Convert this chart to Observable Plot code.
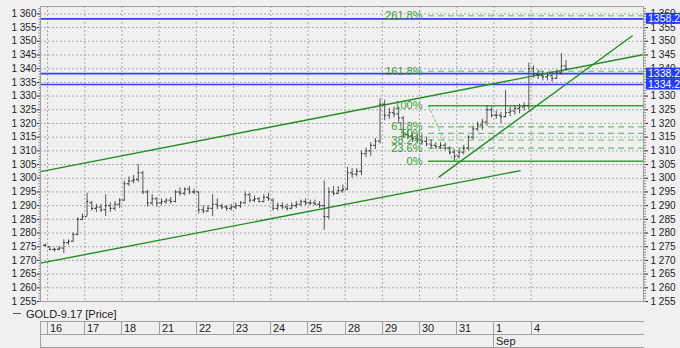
<!DOCTYPE html>
<html><head><meta charset="utf-8">
<script src="https://cdn.jsdelivr.net/npm/d3@7"></script>
<script src="https://cdn.jsdelivr.net/npm/@observablehq/plot@0.6"></script>
<style>
html,body{margin:0;padding:0;background:#f0f0f0;}
#chart svg{display:block;background:#f0f0f0;overflow:hidden;}
</style></head><body><div id="chart"></div>
<script>
// ---- data ----
const dayLabels = ["16","17","18","21","22","23","24","25","28","29","30","31","1","4"];
const monthLabel = "Sep";
const monthStartDay = 12;          // index of "1" in dayLabels
const barsPerDay = 8;
const seriesName = "GOLD-9.17 [Price]";

const open = [1275.5,
1275,1274,1274,1274.5,1276.5,1277,1279.5,1285,
1286,1291,1289,1289.5,1288.5,1290,1289,1290.5,
1292,1298,1299,1299.5,1302,1295,1291,1292.5,
1291,1291.5,1292,1291.5,1295,1294.5,1296,1295,
1295,1288.5,1288,1289,1290.5,1290,1289.5,1289,
1289.5,1290,1291,1294,1292,1292.5,1291.5,1293,
1292,1289,1290,1289.5,1289,1290,1290.5,1291.5,
1291,1291,1290.5,1290,1286,1295,1294.5,1295.5,
1296,1302,1301.5,1302.5,1309,1310,1312,1313.5,
1327,1323,1324,1323.5,1322,1316,1315.5,1314.5,
1314,1313.5,1312.5,1312,1311.5,1312,1311,1309.5,
1308,1309.5,1311,1315,1318,1319.5,1320.5,1325,
1323,1323,1322.5,1324,1324.5,1325.5,1326,1326.5,
1340,1338,1337.5,1337,1337.5,1336.5,1338.5,1341];
const high = [1276,
1275,1274.5,1275,1277.5,1277.5,1280,1285.5,1287,
1294.5,1291.5,1290.5,1290.5,1294,1291,1291.5,1292.5,
1299,1300.5,1301,1305,1302.5,1295.5,1294,1293,
1292.5,1292.5,1293,1295.5,1296.5,1296.5,1297,1296,
1295,1290,1290,1294,1292.5,1290.5,1290,1290.5,
1291,1291.5,1295,1294.5,1293.5,1293,1294,1294.5,
1292.5,1291,1291,1290.5,1291,1291.5,1292,1292.5,
1292,1292,1291.5,1299,1296.5,1297,1297,1297.5,
1304,1303.5,1303.5,1310,1311,1313,1314.5,1329,
1328.5,1325.5,1326,1326,1322.5,1317.5,1316.5,1316,
1315.5,1315,1314,1313,1313,1312.5,1311.5,1310.5,
1310.5,1312,1315.5,1319,1320.5,1321.5,1326.5,1326,
1324.5,1324,1332,1326,1326.5,1327,1327.5,1342,
1341,1339.5,1339,1338.5,1338.5,1339.5,1345.5,1343];
const low = [1275,
1273.5,1273,1273.5,1272.5,1275.5,1276.5,1279,1284.5,
1286,1288,1287.5,1287.5,1286,1287.5,1288,1289,
1291.5,1297,1298,1298.5,1294,1289.5,1290,1289.5,
1290,1290.5,1290.5,1291,1293.5,1293.5,1294,1294,
1287,1287,1287.5,1286,1288.5,1288.5,1288,1288,
1288.5,1289,1290.5,1291,1291,1291,1291,1291.5,
1288,1288,1288.5,1288,1288.5,1289,1289.5,1290,
1290,1290,1289,1281,1285,1293.5,1294,1294.5,
1295.5,1300,1300.5,1301,1307.5,1308,1310.5,1312.5,
1321,1321.5,1322,1320,1314.5,1314,1313,1312.5,
1312,1311.5,1310.5,1310.5,1310.5,1310,1308.5,1306.2,
1307,1308.5,1310,1314,1317,1317.5,1319,1322,
1321.5,1320,1322,1322.5,1323,1323.5,1324.5,1325,
1336.5,1336,1335.5,1335.5,1335,1336,1337.5,1339];
const close = [1275.5,
1274,1274,1274.5,1276.5,1277,1279.5,1285,1286,
1291.5,1289,1289.5,1288.5,1290,1289,1290.5,1292,
1298,1299,1299.5,1302,1295,1291,1292.5,1291,
1291.5,1292,1291.5,1295,1294.5,1296,1295,1295,
1288.5,1288,1289,1290.5,1290,1289.5,1289,1289.5,
1290,1291,1294,1292,1292.5,1291.5,1293,1292.5,
1289,1290,1289.5,1289,1290,1290.5,1291.5,1291,
1291,1290.5,1290,1286,1295,1294.5,1295.5,1296,
1302,1301.5,1302.5,1309,1310,1312,1313.5,1327,
1323,1324,1323.5,1322,1316,1315.5,1314.5,1314,
1313.5,1312.5,1312,1311.5,1312,1311,1309.5,1308,
1309.5,1311,1315,1318,1319.5,1320.5,1325,1323,
1323,1322.5,1324,1324.5,1325.5,1326,1326.5,1340,
1338,1337.5,1337,1337.5,1336.5,1338.5,1341,1340];

const priceLines = [1358.2, 1338.2, 1334.2];
const priceLabels = ["1358.2", "1338.2", "1334.2"];

const fibLow = 1306.2, fibHigh = 1326.5;
const fibRatios = [0, 0.236, 0.382, 0.5, 0.618, 1, 1.618, 2.618];
const fibLabels = ["0%", "23.6%", "38.2%", "50%", "61.8%", "100%", "161.8%", "261.8%"];
const fibStartT = 10.24;
const fibDiagT = [10.24, 10.91];

// trend lines: [t1, value1, t2, value2]
const channelT1 = [-0.19, -0.19, 10.51];
const channelV1 = [1302.4, 1269.0, 1300.3];
const channelT2 = [16.0, 12.72, 15.73];
const channelV2 = [1345.1, 1302.8, 1352.1];

const yTicks = d3.range(1255, 1361, 5);
const yMinor = d3.range(1255, 1363, 1);
const xDomain = [-0.19, 16.02];
const yDomain = [1255, 1362.7];

// ---- build ----
const bars = open.map((o, i) => ({t: (i - 0.5) / barsPerDay, open: o, high: high[i], low: low[i], close: close[i]}));
const fibs = fibRatios.map((r, i) => ({value: fibLow + r * (fibHigh - fibLow), label: fibLabels[i], solid: r === 0 || r === 1, ext: r > 1}));
const channels = channelT1.map((t, i) => ({t1: t, v1: channelV1[i], t2: channelT2[i], v2: channelV2[i]}));
const fmt = d => { const s = String(d); return s.length > 3 ? s.slice(0, s.length - 3) + " " + s.slice(-3) : s; };
const grid = "#a8a8a8";
const tw = 0.045;

const chart = Plot.plot({
  width: 680, height: 348,
  marginTop: 6, marginBottom: 47, marginLeft: 40, marginRight: 37,
  style: {background: "#f0f0f0", fontFamily: "'Liberation Sans', Arial, sans-serif"},
  x: {domain: xDomain, axis: null},
  y: {domain: yDomain, axis: null},
  marks: [
    Plot.ruleY(yTicks.filter(v => v > 1255), {stroke: grid, strokeDasharray: "2,2"}),
    Plot.ruleX(d3.range(0, dayLabels.length), {stroke: grid, strokeDasharray: "2,2"}),
    // fib levels
    Plot.ruleY(fibs.filter(d => d.solid), {y: "value", x1: fibStartT, x2: xDomain[1], stroke: "#3d9e3d", strokeWidth: 1.5}),
    Plot.ruleY(fibs.filter(d => !d.solid && !d.ext), {y: "value", x1: fibStartT, x2: xDomain[1], stroke: "#6cbf6c", strokeWidth: 1.2, strokeDasharray: "6,4"}),
    Plot.ruleY(fibs.filter(d => d.ext), {y: "value", x1: fibStartT, x2: xDomain[1], stroke: "#8ccf8c", strokeWidth: 1.5, strokeDasharray: "6,4"}),
    Plot.link([{x1: fibDiagT[0], y1: fibHigh, x2: fibDiagT[1], y2: fibLow}], {x1: "x1", y1: "y1", x2: "x2", y2: "y2", stroke: "#6cbf6c", strokeWidth: 1, strokeDasharray: "3,2"}),
    // blue lines
    Plot.ruleY(priceLines, {stroke: "#3443ee", strokeWidth: 1.6}),
    // channels
    Plot.link(channels, {x1: "t1", y1: "v1", x2: "t2", y2: "v2", stroke: "#1f8f1f", strokeWidth: 1.4}),
    // OHLC bars
    Plot.ruleX(bars, {x: "t", y1: "low", y2: "high", stroke: "#555", strokeWidth: 1}),
    Plot.ruleY(bars, {y: "open", x1: d => d.t - tw, x2: d => d.t, stroke: "#333", strokeWidth: 1.2}),
    Plot.ruleY(bars, {y: "close", x1: d => d.t, x2: d => d.t + tw, stroke: "#333", strokeWidth: 1.2}),
    // fib labels
    Plot.text(fibs, {x: fibStartT, y: "value", text: "label", textAnchor: "end", dx: -6, fill: "#3a9a3a", fontSize: 11}),
    Plot.frame({stroke: "#a0a0a0"}),
    // axes
    Plot.axisY({anchor: "left", ticks: yTicks, tickFormat: fmt, tickSize: 3, tickPadding: 1, fontSize: 10, color: "#222"}),
    Plot.axisY({anchor: "left", ticks: yMinor, tickFormat: () => "", tickSize: 1.5, stroke: "#888"}),
    Plot.axisY({anchor: "right", ticks: yTicks, tickFormat: fmt, tickSize: 4, tickPadding: 3, fontSize: 10, color: "#222"}),
    Plot.axisY({anchor: "right", ticks: yMinor, tickFormat: () => "", tickSize: 2, stroke: "#888"})
  ]
});

// ---- decorations outside the frame, placed with the chart's own scales ----
const sx = chart.scale("x"), sy = chart.scale("y");
const svg = d3.select(chart);
const xl = sx.apply(xDomain[0]), xr = sx.apply(xDomain[1]) + 1;
const g = svg.append("g").attr("font-family", "'Liberation Sans', Arial, sans-serif").attr("text-anchor", "start");
const line = (x1, y1, x2, y2) => g.append("line").attr("x1", x1).attr("y1", y1).attr("x2", x2).attr("y2", y2).attr("stroke", "#a0a0a0");
[321, 334, 347].forEach(y => line(xl, y + 0.5, xr, y + 0.5));
line(xl + 0.5, 321, xl + 0.5, 348);
dayLabels.forEach((d, i) => {
  const x = Math.round(sx.apply(i)) + 0.5;
  line(x, 321, x, 334);
  g.append("text").attr("x", x + 2.5).attr("y", 331.5).attr("font-size", 11).attr("fill", "#222").text(d);
});
{
  const x = Math.round(sx.apply(monthStartDay)) + 0.5;
  line(x, 334, x, 347);
  g.append("text").attr("x", x + 2.5).attr("y", 345).attr("font-size", 11).attr("fill", "#222").text(monthLabel);
}
g.append("line").attr("x1", 13).attr("x2", 21).attr("y1", 313.5).attr("y2", 313.5).attr("stroke", "#555");
g.append("text").attr("x", 26).attr("y", 318).attr("font-size", 11).attr("fill", "#222").text(seriesName);
priceLines.forEach((v, i) => {
  const y = sy.apply(v);
  g.append("rect").attr("x", 646).attr("y", y - 5.5).attr("width", 40).attr("height", 11).attr("fill", "#1f3bff");
  g.append("text").attr("x", 648).attr("y", y + 3.8).attr("font-size", 10.5).attr("fill", "#fff").text(priceLabels[i]);
});

document.getElementById("chart").append(chart);
</script></body></html>
